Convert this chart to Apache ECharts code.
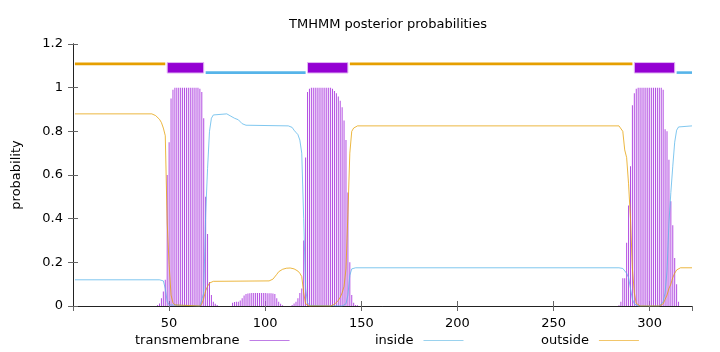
<!DOCTYPE html>
<html><head><meta charset="utf-8">
<script src="https://cdn.jsdelivr.net/npm/echarts@6/dist/echarts.min.js"></script>
<style>html,body{margin:0;padding:0;background:#fff}#c{width:720px;height:352px}</style>
</head><body><div id="c"></div>
<script>
// ---- data ----
const seqLength = 322;
const topoType  = ['outside', 'TMhelix', 'inside', 'TMhelix', 'outside', 'TMhelix', 'inside'];
const topoStart = [1, 49, 69, 122, 144, 292, 314];
const topoEnd   = [48, 68, 121, 143, 291, 313, 322];

// posterior probability of transmembrane (residue, prob) – residues not listed are 0
const tmProb = [
 [44,0.005],[45,0.012],[46,0.035],[47,0.066],[48,0.12],[49,0.60],[50,0.75],[51,0.95],[52,0.99],[53,1],
 [54,1],[55,1],[56,1],[57,1],[58,1],[59,1],[60,1],[61,1],[62,1],[63,1],[64,1],[65,1],[66,0.995],
 [67,0.98],[68,0.86],[69,0.50],[70,0.33],[71,0.11],[72,0.05],[73,0.02],[74,0.01],[75,0.005],
 [83,0.015],[84,0.018],[85,0.02],[86,0.02],[87,0.025],[88,0.035],[89,0.048],[90,0.055],[91,0.057],
 [92,0.058],[93,0.059],[94,0.059],[95,0.059],[96,0.059],[97,0.059],[98,0.059],[99,0.059],[100,0.059],
 [101,0.058],[102,0.058],[103,0.058],[104,0.057],[105,0.055],[106,0.035],[107,0.02],[108,0.01],[109,0.003],
 [114,0.005],[115,0.012],[116,0.02],[117,0.035],[118,0.06],[119,0.08],[120,0.30],[121,0.68],[122,0.98],
 [123,0.995],[124,1],[125,1],[126,1],[127,1],[128,1],[129,1],[130,1],[131,1],[132,1],[133,1],[134,1],
 [135,0.995],[136,0.985],[137,0.975],[138,0.96],[139,0.94],[140,0.91],[141,0.85],[142,0.76],[143,0.52],
 [144,0.20],[145,0.05],[146,0.015],[147,0.005],[148,0.003],
 [284,0.003],[285,0.02],[286,0.127],[287,0.127],[288,0.29],[289,0.46],[290,0.64],[291,0.92],[292,0.975],
 [293,0.995],[294,1],[295,1],[296,1],[297,1],[298,1],[299,1],[300,1],[301,1],[302,1],[303,1],[304,1],
 [305,1],[306,1],[307,0.99],[308,0.81],[309,0.80],[310,0.67],[311,0.48],[312,0.37],[313,0.22],[314,0.10],[315,0.02]
];

// posterior probability of inside (residue, prob); runs of equal values given by their ends
const insideProb = [
 [1,0.12],[45,0.12],[46,0.118],[47,0.115],[48,0.08],[49,0.02],[50,0.005],[51,0],[66,0],[67,0.005],
 [68,0.06],[69,0.42],[70,0.63],[71,0.80],[72,0.86],[73,0.875],[74,0.88],[80,0.88],[81,0.878],[82,0.87],
 [83,0.865],[84,0.86],[85,0.857],[86,0.853],[87,0.845],[88,0.835],[89,0.83],[90,0.828],[91,0.825],
 [112,0.825],[113,0.823],[114,0.818],[115,0.805],[116,0.795],[117,0.785],[118,0.76],[119,0.70],[120,0.40],
 [121,0.08],[122,0.015],[123,0.003],[124,0],[140,0],[141,0.003],[142,0.01],[143,0.05],[144,0.14],
 [145,0.17],[146,0.174],[147,0.175],[284,0.175],[285,0.174],[286,0.172],[287,0.165],[288,0.15],[289,0.13],
 [290,0.08],[291,0.03],[292,0.01],[293,0.003],[294,0],[305,0],[306,0.003],[307,0.02],[308,0.06],[309,0.16],
 [310,0.38],[311,0.52],[312,0.64],[313,0.75],[314,0.805],[315,0.82],[316,0.825],[322,0.825]
];

// posterior probability of outside (residue, prob); runs of equal values given by their ends
const outsideProb = [
 [1,0.88],[41,0.88],[42,0.877],[43,0.872],[44,0.865],[45,0.855],[46,0.84],[47,0.815],[48,0.78],[49,0.38],
 [50,0.19],[51,0.05],[52,0.015],[53,0.005],[54,0],[66,0],[67,0.01],[68,0.035],[69,0.07],[70,0.09],
 [71,0.105],[72,0.11],[73,0.113],[74,0.115],[102,0.115],[103,0.118],[104,0.123],[105,0.13],[106,0.145],
 [107,0.157],[108,0.165],[109,0.168],[110,0.171],[111,0.173],[112,0.174],[113,0.174],[114,0.173],[115,0.17],
 [116,0.166],[117,0.16],[118,0.15],[119,0.135],[120,0.06],[121,0.01],[122,0.002],[123,0],[134,0],
 [135,0.003],[136,0.008],[137,0.015],[138,0.025],[139,0.04],[140,0.06],[141,0.09],[142,0.17],[143,0.42],
 [144,0.70],[145,0.80],[146,0.815],[147,0.82],[148,0.825],[284,0.825],[285,0.823],[286,0.80],[287,0.715],
 [288,0.68],[289,0.56],[290,0.40],[291,0.17],[292,0.06],[293,0.012],[294,0.003],[295,0],[305,0],
 [306,0.003],[307,0.01],[308,0.03],[309,0.05],[310,0.08],[311,0.10],[312,0.13],[313,0.15],[314,0.165],
 [315,0.172],[316,0.175],[322,0.175]
];

const yTicks = [0, 0.2, 0.4, 0.6, 0.8, 1, 1.2];

// ---- chart ----
const FONT = 'DejaVu Sans, sans-serif';
const FS = 13;
const chart = echarts.init(document.getElementById('c'), null, {renderer: 'canvas'});

const topoData = topoStart.map((s, i) => [s, topoEnd[i], i]);

const xBase = {type: 'value', min: 0, max: seqLength, interval: 50, splitLine: {show: false}};
const yBase = {type: 'value', min: yTicks[0], max: yTicks[yTicks.length - 1], interval: 0.2, splitLine: {show: false}};
const axLine = {show: true, lineStyle: {color: '#222', width: 1}};
const tick = {show: true, inside: true, length: 5, lineStyle: {color: '#666'}};

chart.setOption({
  animation: false,
  backgroundColor: '#fff',
  title: {
    text: 'TMHMM posterior probabilities',
    left: 383, top: 13, textAlign: 'center',
    textStyle: {fontFamily: FONT, fontSize: FS, fontWeight: 'normal', color: '#000'}
  },
  grid: {left: 73, right: 28, top: 44, bottom: 46, containLabel: false},
  xAxis: [
    Object.assign({}, xBase, {
      position: 'bottom', axisLine: axLine, axisTick: tick,
      axisLabel: {showMinLabel: false, showMaxLabel: false, margin: 11,
        fontFamily: FONT, fontSize: FS, color: '#000'}
    }),
    Object.assign({}, xBase, {
      position: 'top', axisLine: axLine, axisTick: tick, axisLabel: {show: false}
    })
  ],
  yAxis: [
    Object.assign({}, yBase, {
      position: 'left', axisLine: axLine, axisTick: tick,
      name: 'probability', nameLocation: 'middle', nameGap: 50, nameRotate: 90,
      nameTextStyle: {fontFamily: FONT, fontSize: FS, color: '#000'},
      axisLabel: {margin: 10, fontFamily: FONT, fontSize: FS, color: '#000',
        formatter: v => String(+v.toFixed(1))}
    }),
    Object.assign({}, yBase, {
      position: 'right', axisLine: axLine, axisTick: tick, axisLabel: {show: false}
    })
  ],
  legend: [
    {data: [{name: 'transmembrane', itemStyle: {color: '#bf7de6'}}], left: 135, top: 334},
    {data: [{name: 'inside', itemStyle: {color: '#9ad2ee'}}], left: 375, top: 334},
    {data: [{name: 'outside', itemStyle: {color: '#f2c66a'}}], left: 541, top: 334}
  ].map(l => Object.assign(l, {
    align: 'right', icon: 'rect', itemWidth: 40, itemHeight: 1, itemGap: 0,
    selectedMode: false, padding: 0,
    textStyle: {fontFamily: FONT, fontSize: FS, color: '#000', padding: [0, 5, 0, 0]}
  })),
  series: [
    {
      name: 'transmembrane', type: 'bar', xAxisIndex: 0, yAxisIndex: 0,
      data: tmProb, barWidth: 1, barGap: '-100%',
      itemStyle: {color: '#b34ee2'}, z: 2
    },
    {
      name: 'inside', type: 'line', xAxisIndex: 0, yAxisIndex: 0,
      data: insideProb, showSymbol: false, symbol: 'none',
      lineStyle: {color: '#56b4e9', width: 1, opacity: 0.75}, itemStyle: {color: '#9ad2ee'}, z: 3
    },
    {
      name: 'outside', type: 'line', xAxisIndex: 0, yAxisIndex: 0,
      data: outsideProb, showSymbol: false, symbol: 'none',
      lineStyle: {color: '#e69f00', width: 1, opacity: 0.75}, itemStyle: {color: '#f2c66a'}, z: 4
    },
    {
      name: 'topology', type: 'custom', xAxisIndex: 0, yAxisIndex: 0,
      data: topoData, encode: {x: [0, 1]}, z: 5,
      renderItem: function (params, api) {
        const s = api.value(0), e = api.value(1), t = topoType[api.value(2)];
        if (t === 'TMhelix') {
          const p1 = api.coord([s, 1.115]), p2 = api.coord([e, 1.067]);
          return {type: 'rect',
            shape: {x: p1[0], y: p1[1], width: p2[0] - p1[0], height: p2[1] - p1[1]},
            style: {fill: '#9400d3', stroke: '#e2b6f4', lineWidth: 1}};
        }
        const y = t === 'outside' ? 1.109 : 1.069;
        const a = api.coord([s, y]), b = api.coord([e, y]);
        return {type: 'line', shape: {x1: a[0], y1: a[1], x2: b[0], y2: b[1]},
          style: {stroke: t === 'outside' ? '#e69f00' : '#56b4e9', lineWidth: 2.6}};
      }
    }
  ]
});
</script></body></html>
